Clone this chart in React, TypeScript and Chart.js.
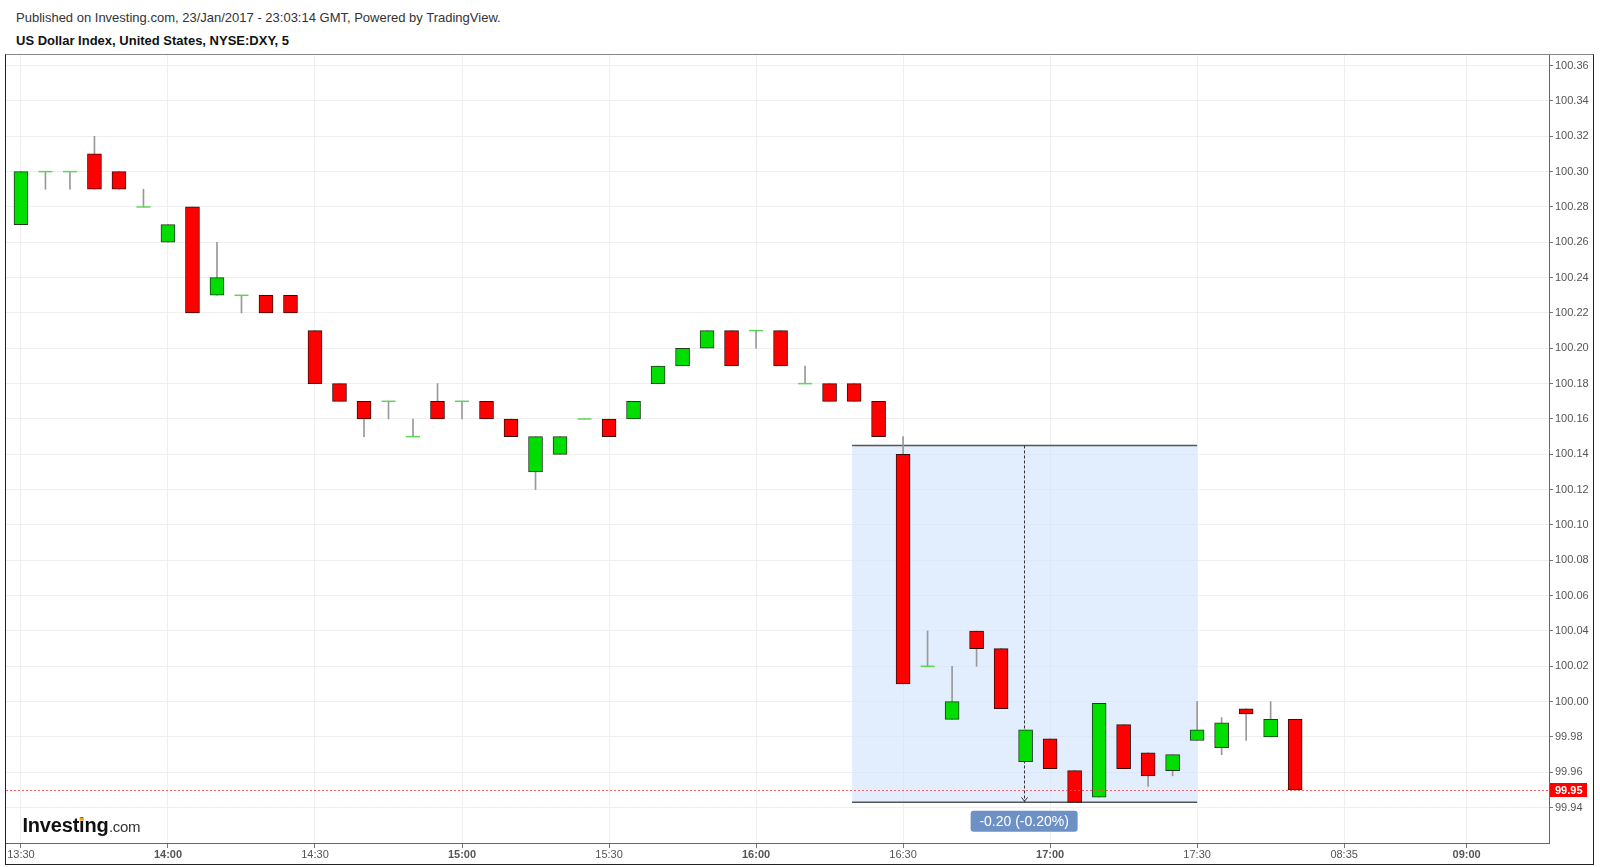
import React, { useEffect, useRef } from "react";
import { Chart, registerables } from "chart.js";

Chart.register(...registerables);

const FONT = "'Liberation Sans', Arial, Helvetica, sans-serif";

// 5-minute candles, index 0 = 13:30
const opens = [
  100.27, 100.3, 100.3, 100.31, 100.3, 100.28, 100.26, 100.28, 100.23, 100.23,
  100.23, 100.23, 100.21, 100.18, 100.17, 100.17, 100.15, 100.17, 100.17, 100.17,
  100.16, 100.13, 100.14, 100.16, 100.16, 100.16, 100.18, 100.19, 100.2, 100.21,
  100.21, 100.21, 100.18, 100.18, 100.18, 100.17, 100.14, 100.02, 99.99, 100.04,
  100.03, 99.966, 99.979, 99.961, 99.946, 99.987, 99.971, 99.961, 99.978, 99.974,
  99.996, 99.98, 99.99,
];
const highs = [
  100.3, 100.3, 100.3, 100.32, 100.3, 100.29, 100.27, 100.28, 100.26, 100.23,
  100.23, 100.23, 100.21, 100.18, 100.17, 100.17, 100.16, 100.18, 100.17, 100.17,
  100.16, 100.15, 100.15, 100.16, 100.16, 100.17, 100.19, 100.2, 100.21, 100.21,
  100.21, 100.21, 100.19, 100.18, 100.18, 100.17, 100.15, 100.04, 100.02, 100.04,
  100.03, 99.984, 99.979, 99.961, 99.999, 99.987, 99.971, 99.97, 100.0, 99.991,
  99.996, 100.0, 99.99,
];
const lows = [
  100.27, 100.29, 100.29, 100.29, 100.29, 100.28, 100.26, 100.22, 100.23, 100.22,
  100.22, 100.22, 100.18, 100.17, 100.15, 100.16, 100.15, 100.16, 100.16, 100.16,
  100.15, 100.12, 100.14, 100.16, 100.15, 100.16, 100.18, 100.19, 100.2, 100.19,
  100.2, 100.19, 100.18, 100.17, 100.17, 100.15, 100.01, 100.02, 99.99, 100.02,
  99.996, 99.966, 99.962, 99.943, 99.946, 99.962, 99.952, 99.958, 99.978, 99.97,
  99.978, 99.98, 99.95,
];
const closes = [
  100.3, 100.3, 100.3, 100.29, 100.29, 100.28, 100.27, 100.22, 100.24, 100.23,
  100.22, 100.22, 100.18, 100.17, 100.16, 100.17, 100.15, 100.16, 100.17, 100.16,
  100.15, 100.15, 100.15, 100.16, 100.15, 100.17, 100.19, 100.2, 100.21, 100.19,
  100.21, 100.19, 100.18, 100.17, 100.17, 100.15, 100.01, 100.02, 100.0, 100.03,
  99.996, 99.984, 99.962, 99.943, 99.999, 99.962, 99.958, 99.97, 99.984, 99.988,
  99.993, 99.99, 99.95,
];

const xTickValues = [0, 6, 12, 18, 24, 30, 36, 42, 48, 54, 59];
const xTickLabels = ["13:30", "14:00", "14:30", "15:00", "15:30", "16:00", "16:30", "17:00", "17:30", "08:35", "09:00"];
const xTickBold = [false, true, false, true, false, true, false, true, false, false, true];
const yTickValues = [
  99.94, 99.96, 99.98, 100.0, 100.02, 100.04, 100.06, 100.08, 100.1, 100.12, 100.14,
  100.16, 100.18, 100.2, 100.22, 100.24, 100.26, 100.28, 100.3, 100.32, 100.34, 100.36,
];
const xMin = -0.61;
const xMax = 62.36;
const yMin = 99.92;
const yMax = 100.366;

const lastPrice = 99.95;
const measureStart = 33.92;
const measureEnd = 48;
const measureMid = 40.94;
const measureTop = 100.145;
const measureBottom = 99.943;
const measureText = "-0.20 (-0.20%)";

const GREEN = "rgb(0,222,0)";
const RED = "rgb(255,0,0)";

const overlayPlugin = {
  id: "overlay",
  beforeDatasetsDraw(chart: any) {
    const { ctx, scales } = chart;
    const x = scales.x;
    const y = scales.y;
    const x0 = x.getPixelForValue(measureStart);
    const x1 = x.getPixelForValue(measureEnd);
    const yT = y.getPixelForValue(measureTop);
    const yB = y.getPixelForValue(measureBottom);
    const xm = Math.round(x.getPixelForValue(measureMid)) + 0.5;
    ctx.save();
    ctx.fillStyle = "rgba(206,227,252,0.6)";
    ctx.fillRect(x0, yT, x1 - x0, yB - yT);
    ctx.strokeStyle = "#555";
    ctx.lineWidth = 1.5;
    ctx.beginPath();
    ctx.moveTo(x0, yT);
    ctx.lineTo(x1, yT);
    ctx.moveTo(x0, yB);
    ctx.lineTo(x1, yB);
    ctx.stroke();
    ctx.strokeStyle = "#333";
    ctx.lineWidth = 1;
    ctx.setLineDash([3, 2]);
    ctx.beginPath();
    ctx.moveTo(xm, yT);
    ctx.lineTo(xm, yB);
    ctx.stroke();
    ctx.setLineDash([]);
    ctx.beginPath();
    ctx.moveTo(xm - 3, yB - 5);
    ctx.lineTo(xm, yB - 1);
    ctx.lineTo(xm + 3, yB - 5);
    ctx.stroke();
    ctx.restore();
  },
  afterDatasetsDraw(chart: any) {
    const { ctx, chartArea, scales } = chart;
    const yp = Math.round(scales.y.getPixelForValue(lastPrice)) + 0.5;
    ctx.save();
    ctx.strokeStyle = "rgba(255,70,70,0.85)";
    ctx.lineWidth = 1;
    ctx.setLineDash([2, 2]);
    ctx.beginPath();
    ctx.moveTo(chartArea.left, yp);
    ctx.lineTo(chartArea.right, yp);
    ctx.stroke();
    ctx.restore();
  },
  afterDraw(chart: any) {
    const { ctx, chartArea, scales } = chart;
    const x = scales.x;
    const y = scales.y;
    ctx.save();
    // measure label
    const xm = x.getPixelForValue(measureMid);
    const yB = y.getPixelForValue(measureBottom);
    const bw = 107;
    const bh = 21;
    const bx = xm - bw / 2;
    const by = yB + 8.5;
    ctx.fillStyle = "rgb(110,145,197)";
    ctx.beginPath();
    ctx.roundRect(bx, by, bw, bh, 3);
    ctx.fill();
    ctx.fillStyle = "#fff";
    ctx.font = `14px ${FONT}`;
    ctx.textAlign = "center";
    ctx.textBaseline = "middle";
    ctx.fillText(measureText, xm, by + bh / 2 + 0.5);
    // price tag
    const yp = y.getPixelForValue(lastPrice);
    ctx.fillStyle = "rgb(255,0,0)";
    ctx.fillRect(chartArea.right + 1, yp - 7, 37, 14);
    ctx.fillStyle = "#fff";
    ctx.font = `bold 11px ${FONT}`;
    ctx.textAlign = "left";
    ctx.fillText(lastPrice.toFixed(2), chartArea.right + 6, yp + 0.5);
    // logo
    ctx.textBaseline = "alphabetic";
    ctx.fillStyle = "#111";
    ctx.font = `bold 20px ${FONT}`;
    (ctx as any).letterSpacing = "-0.2px";
    const lx = chartArea.left + 16.5;
    const ly = chartArea.bottom - 11;
    ctx.fillText("Investing", lx, ly);
    const w = ctx.measureText("Investing").width;
    const wInvest = ctx.measureText("Invest").width;
    const wI = ctx.measureText("i").width;
    (ctx as any).letterSpacing = "0px";
    // orange dot of the second "i"
    ctx.fillStyle = "rgb(245,160,30)";
    ctx.fillRect(lx + wInvest + wI / 2 - 2.2, ly - 14.5, 4.2, 3.2);
    ctx.fillStyle = "#333";
    ctx.font = `15px ${FONT}`;
    (ctx as any).letterSpacing = "-0.3px";
    ctx.fillText(".com", lx + w + 0.5, ly);
    (ctx as any).letterSpacing = "0px";
    ctx.restore();
  },
};

export default function App() {
  const ref = useRef<HTMLCanvasElement | null>(null);

  useEffect(() => {
    if (!ref.current) return;
    const n = opens.length;
    const idx = Array.from({ length: n }, (_, i) => i);
    const isDoji = idx.map((i) => opens[i] === closes[i]);
    const bodyData = idx.map((i) => ({ x: i, y: isDoji[i] ? null : [opens[i], closes[i]] }));
    const bodyColors = idx.map((i) => (closes[i] >= opens[i] ? GREEN : RED));
    const bodyBorders = idx.map((i) => (closes[i] >= opens[i] ? "#1f3a1f" : "#3a0d0d"));
    const wickData = idx.map((i) => ({ x: i, y: [lows[i], highs[i]] }));
    const dojiData = idx.map((i) => ({ x: i, y: isDoji[i] ? opens[i] : null }));

    const chart = new Chart(ref.current, {
      type: "bar",
      data: {
        datasets: [
          {
            type: "bar",
            data: bodyData as any,
            backgroundColor: bodyColors,
            borderColor: bodyBorders,
            borderWidth: 1,
            borderSkipped: false,
            barThickness: 14,
            grouped: false,
            order: 0,
          } as any,
          {
            type: "line",
            data: dojiData as any,
            showLine: false,
            pointStyle: "line",
            pointRadius: 7,
            borderColor: "#5cd65c",
            pointBorderColor: "#5cd65c",
            pointBorderWidth: 1.5,
            order: 1,
          } as any,
          {
            type: "bar",
            data: wickData as any,
            backgroundColor: "#999999",
            borderWidth: 0,
            barThickness: 1,
            grouped: false,
            order: 2,
          } as any,
        ],
      },
      options: {
        animation: false,
        responsive: false,
        events: [],
        layout: { padding: 0, autoPadding: false },
        plugins: { legend: { display: false }, tooltip: { enabled: false } },
        scales: {
          x: {
            type: "linear",
            min: xMin,
            max: xMax,
            offset: false,
            afterBuildTicks: (s: any) => {
              s.ticks = xTickValues.map((v) => ({ value: v }));
            },
            afterFit: (s: any) => {
              s.height = 21;
              s.paddingLeft = 0;
              s.paddingRight = 0;
            },
            ticks: {
              autoSkip: false,
              maxRotation: 0,
              padding: 0,
              color: "#555",
              callback: (_v: any, i: number) => xTickLabels[i],
              font: (c: any) => ({ family: FONT, size: 11, weight: xTickBold[c.index] ? "bold" : "normal" }),
            },
            grid: { color: "#efefef", tickColor: "#777", tickLength: 5, offset: false },
            border: { color: "#666" },
          } as any,
          y: {
            type: "linear",
            position: "right",
            min: yMin,
            max: yMax,
            afterBuildTicks: (s: any) => {
              s.ticks = yTickValues.map((v) => ({ value: v }));
            },
            afterFit: (s: any) => {
              s.width = 44;
              s.paddingTop = 0;
              s.paddingBottom = 0;
            },
            ticks: {
              padding: 2,
              color: "#555",
              font: { family: FONT, size: 11 },
              callback: (v: any) => Number(v).toFixed(2),
            },
            grid: { color: "#efefef", tickColor: "#777", tickLength: 4 },
            border: { color: "#666" },
          } as any,
        },
      },
      plugins: [overlayPlugin],
    });
    return () => chart.destroy();
  }, []);

  return (
    <div style={{ position: "fixed", left: 0, top: 0, width: 1600, height: 867, background: "#fff", fontFamily: FONT }}>
      <div style={{ position: "absolute", left: 16, top: 10, fontSize: 13, lineHeight: "15px", color: "#333", whiteSpace: "nowrap" }}>
        Published on Investing.com, 23/Jan/2017 - 23:03:14 GMT, Powered by TradingView.
      </div>
      <div style={{ position: "absolute", left: 16, top: 33, fontSize: 13, lineHeight: "15px", color: "#111", fontWeight: "bold", whiteSpace: "nowrap" }}>
        US Dollar Index, United States, NYSE:DXY, 5
      </div>
      <div
        style={{
          position: "absolute",
          left: 5,
          top: 54,
          width: 1589,
          height: 811,
          boxSizing: "border-box",
          borderLeft: "1px solid #222",
          borderRight: "1px solid #222",
          borderBottom: "1px solid #222",
          borderTop: "1px solid #888",
        }}
      />
      <canvas ref={ref} width={1587} height={809} style={{ position: "absolute", left: 6, top: 55, width: 1587, height: 809 }} />
    </div>
  );
}
